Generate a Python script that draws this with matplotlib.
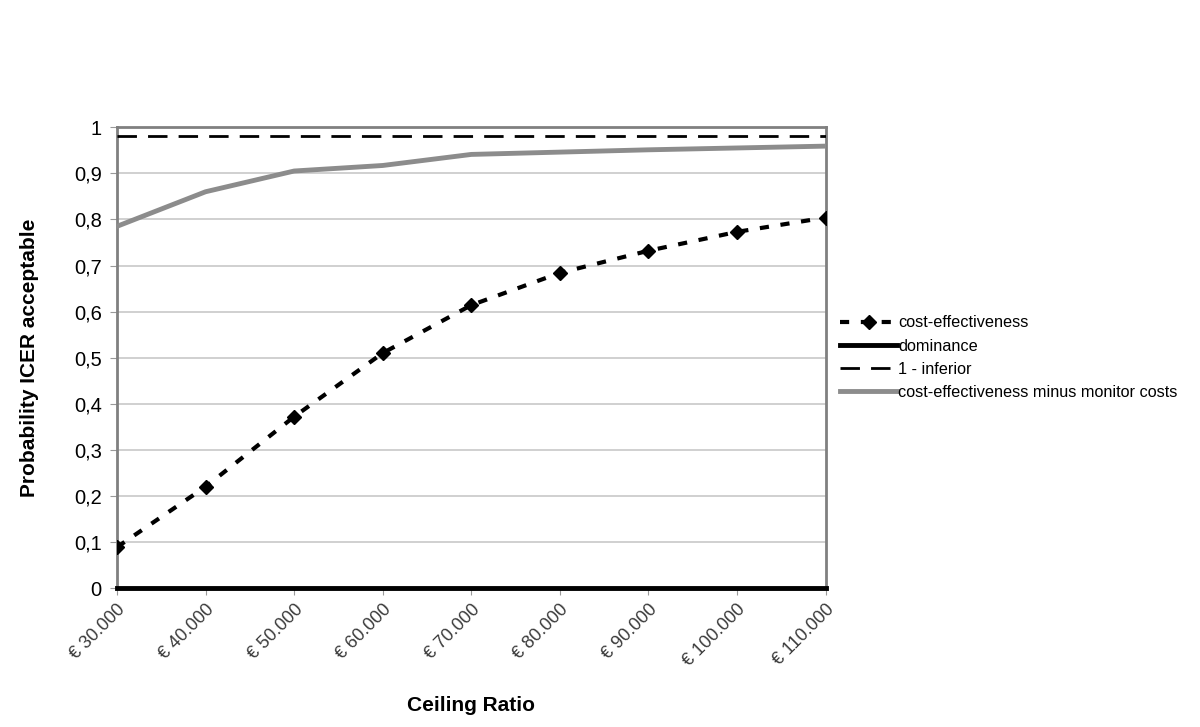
import matplotlib.pyplot as plt
import numpy as np

plt.rcParams["font.family"] = ["Liberation Sans", "DejaVu Sans"]

# ceiling ratios (euro) and probabilities
ceiling = [30000, 40000, 50000, 60000, 70000, 80000, 90000, 100000, 110000]
tick_labels = ["€ 30.000", "€ 40.000", "€ 50.000", "€ 60.000", "€ 70.000",
               "€ 80.000", "€ 90.000", "€ 100.000", "€ 110.000"]
cost_eff = [0.089, 0.220, 0.372, 0.510, 0.614, 0.684, 0.732, 0.773, 0.804]
dominance = [0, 0, 0, 0, 0, 0, 0, 0, 0]
one_inferior = [0.98, 0.98, 0.98, 0.98, 0.98, 0.98, 0.98, 0.98, 0.98]
ce_minus_monitor = [0.785, 0.860, 0.905, 0.917, 0.941, 0.946, 0.951, 0.955, 0.959]

fig = plt.figure(figsize=(12, 7.27), dpi=100)
ax = fig.add_axes([0.0975, 0.191, 0.5905, 0.634])

x = np.arange(len(ceiling))

ax.plot(x, cost_eff, color="black", lw=3, ls=(0, (2.2, 2.8)), marker="D",
        ms=7, label="cost-effectiveness", zorder=4)
ax.plot(x, dominance, color="black", lw=3.5, label="dominance", zorder=5,
        clip_on=False)
ax.plot(x, one_inferior, color="black", lw=2, ls=(0, (7, 4)),
        label="1 - inferior", zorder=4)
ax.plot(x, ce_minus_monitor, color="#8c8c8c", lw=3.5,
        label="cost-effectiveness minus monitor costs", zorder=3)

ax.set_xlim(0, len(ceiling) - 1)
ax.set_ylim(0, 1)
ax.set_yticks(np.arange(0, 1.01, 0.1))
ax.set_yticklabels(["0", "0,1", "0,2", "0,3", "0,4", "0,5", "0,6", "0,7",
                    "0,8", "0,9", "1"], fontsize=14.5)
ax.set_xticks(x)
ax.set_xticklabels(tick_labels, rotation=45, ha="right", rotation_mode="anchor",
                   fontsize=13, color="#3a3a3a")
ax.tick_params(axis="x", length=5, color="#999999", pad=4)
ax.tick_params(axis="y", length=5, color="#999999", pad=6)

ax.grid(axis="y", color="#c8c8c8", lw=1.2)
ax.set_axisbelow(True)
for s in ax.spines.values():
    s.set_color("#808080")
    s.set_linewidth(2)

ax.set_xlabel("Ceiling Ratio", fontsize=15, fontweight="bold", labelpad=19)
ax.set_ylabel("Probability ICER acceptable", fontsize=15, fontweight="bold",
              labelpad=25)

ax.legend(loc="center left", bbox_to_anchor=(1.0, 0.5), frameon=False,
          fontsize=11.7, handlelength=3.5, handletextpad=0.05, labelspacing=0.5)

fig.savefig("out.png", dpi=100)
